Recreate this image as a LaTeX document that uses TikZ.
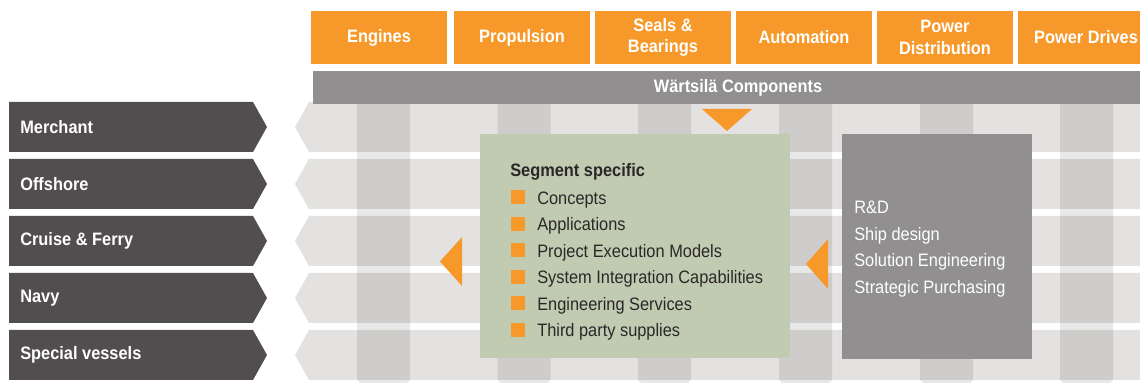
\documentclass[tikz,border=0pt]{standalone}
\usepackage{fontspec}
\setmainfont[FakeStretch=0.91]{Liberation Sans}
\usepackage{tikz}
\usetikzlibrary{positioning,calc}

\definecolor{wOrange}{HTML}{F7992A}
\definecolor{wDark}{HTML}{524E4F}
\definecolor{wGrey}{HTML}{918F90}
\definecolor{wLight}{HTML}{E3E2E1}
\definecolor{wGreen}{HTML}{C1CBB1}
\definecolor{wText}{HTML}{2B2728}

\newcommand{\diafont}{\fontsize{13.5pt}{16.3pt}\selectfont}

\begin{document}
\begin{tikzpicture}[x=0.75pt,y=-0.75pt,font=\diafont,
  topbox/.style={fill=wOrange,text=white,font=\diafont\bfseries,align=center,
    minimum width=102pt,minimum height=39.75pt,inner sep=0pt},
  rowlabel/.style={text=white,font=\diafont\bfseries,anchor=west,inner sep=0pt},
  stripe/.style={fill=black,fill opacity=0.09},
  item/.style={text=wText,anchor=base west,inner sep=0pt},
  rditem/.style={text=white,anchor=base west,inner sep=0pt},
  bullet/.style={fill=wOrange}]

\useasboundingbox (0,0) rectangle (1140,384);

% segment rows, right side
\fill[wLight] (295,127) -- (309,102) -- (1140,102) -- (1140,152) -- (309,152) -- cycle;
\fill[wLight] (295,184) -- (309,159) -- (1140,159) -- (1140,209) -- (309,209) -- cycle;
\fill[wLight] (295,241) -- (309,216) -- (1140,216) -- (1140,266) -- (309,266) -- cycle;
\fill[wLight] (295,298) -- (309,273) -- (1140,273) -- (1140,323) -- (309,323) -- cycle;
\fill[wLight] (295,355) -- (309,330) -- (1140,330) -- (1140,380) -- (309,380) -- cycle;

% component columns
\fill[stripe] (357,104) -- (410,104) -- (410,380) -- (407,383) -- (360,383) -- (357,380) -- cycle;
\fill[stripe] (497.5,104) -- (550.5,104) -- (550.5,380) -- (547.5,383) -- (500.5,383) -- (497.5,380) -- cycle;
\fill[stripe] (638,104) -- (691,104) -- (691,380) -- (688,383) -- (641,383) -- (638,380) -- cycle;
\fill[stripe] (779,104) -- (832,104) -- (832,380) -- (829,383) -- (782,383) -- (779,380) -- cycle;
\fill[stripe] (920,104) -- (973,104) -- (973,380) -- (970,383) -- (923,383) -- (920,380) -- cycle;
\fill[stripe] (1060,104) -- (1113,104) -- (1113,380) -- (1110,383) -- (1063,383) -- (1060,380) -- cycle;

% segment rows, left side
\fill[wDark] (9,102) -- (253,102) -- (267,127) -- (253,152) -- (9,152) -- cycle;
\fill[wDark] (9,159) -- (253,159) -- (267,184) -- (253,209) -- (9,209) -- cycle;
\fill[wDark] (9,216) -- (253,216) -- (267,241) -- (253,266) -- (9,266) -- cycle;
\fill[wDark] (9,273) -- (253,273) -- (267,298) -- (253,323) -- (9,323) -- cycle;
\fill[wDark] (9,330) -- (253,330) -- (267,355) -- (253,380) -- (9,380) -- cycle;

\node[rowlabel] (merchant) at (20,127) {Merchant};
\node[rowlabel] (offshore) at (20,184) {Offshore};
\node[rowlabel] (cruise) at (20,241) {Cruise \& Ferry};
\node[rowlabel] (navy) at (20,298) {Navy};
\node[rowlabel] (special) at (20,355) {Special vessels};

% product lines
\node[topbox] (engines) at (379,37.5) {Engines};
\node[topbox] (propulsion) at (522,37.5) {Propulsion};
\node[topbox] (seals) at (663,37.5) {Seals \&\\Bearings};
\node[topbox] (automation) at (804,37.5) {Automation};
\node[topbox] (powerdist) at (945,37.5) {Power\\Distribution};
\node[topbox] (powerdrives) at (1086,37.5) {Power Drives};

\fill[wGrey] (313,71) rectangle (1140,104);
\node[text=white,font=\diafont\bfseries] (components) at (738,87.5) {Wärtsilä Components};

% boxes and pointers
\fill[wGreen] (480,134) rectangle (790,358);
\fill[wGrey] (842,134) rectangle (1032,359);

\fill[wOrange] (702,109) -- (752,109) -- (727,131) -- cycle;
\fill[wOrange] (462,237) -- (462,286) -- (440,261.5) -- cycle;
\fill[wOrange] (828,239) -- (828,289) -- (806,264) -- cycle;

\node[item,font=\diafont\bfseries] (segment) at (510,177) {Segment specific};

\fill[bullet] (511,190.5) rectangle (525,204.3);
\fill[bullet] (511,217) rectangle (525,230.8);
\fill[bullet] (511,243.5) rectangle (525,257.3);
\fill[bullet] (511,270) rectangle (525,283.8);
\fill[bullet] (511,296.5) rectangle (525,310.3);
\fill[bullet] (511,323) rectangle (525,336.8);

\node[item] (concepts) at (537,204.3) {Concepts};
\node[item] (applications) at (537,230.8) {Applications};
\node[item] (execution) at (537,257.3) {Project Execution Models};
\node[item] (integration) at (537,283.8) {System Integration Capabilities};
\node[item] (services) at (537,310.3) {Engineering Services};
\node[item] (thirdparty) at (537,336.8) {Third party supplies};

\node[rditem] (rnd) at (854,214) {R\&D};
\node[rditem] (shipdesign) at (854,240.5) {Ship design};
\node[rditem] (solution) at (854,267) {Solution Engineering};
\node[rditem] (purchasing) at (854,293.5) {Strategic Purchasing};

\end{tikzpicture}
\end{document}
